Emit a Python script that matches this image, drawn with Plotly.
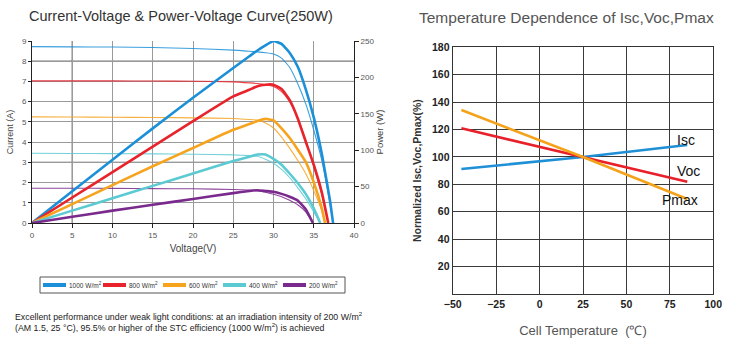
import plotly.graph_objects as go

# ---------------- Left chart data ----------------
irradiance_labels = ["1000 W/m<sup>2</sup>", "800 W/m<sup>2</sup>", "600 W/m<sup>2</sup>",
                     "400 W/m<sup>2</sup>", "200 W/m<sup>2</sup>"]
series_colors = ["#1b90d8", "#e8232b", "#f6a31e", "#5ccad2", "#7a2a8c"]

V_1000 = [0, 5, 10, 15, 20, 25, 27, 28, 29, 30, 31, 32, 33, 34, 35, 36, 37, 37.4]
I_1000 = [8.72, 8.71, 8.70, 8.68, 8.63, 8.55, 8.49, 8.46, 8.42, 8.36, 8.15, 7.7, 6.9, 5.9, 4.6, 3.1, 1.0, 0]
P_1000 = [0, 43.5, 87, 130, 172, 213, 229, 237, 244, 250, 246, 234, 215, 184, 145, 95, 32, 0]

V_800 = [0, 5, 10, 15, 20, 25, 27, 28, 29, 30, 31, 32, 33, 34, 35, 36, 36.8]
I_800 = [7.03, 7.03, 7.03, 7.02, 7.01, 6.98, 6.93, 6.9, 6.84, 6.75, 6.5, 6.0, 5.2, 4.1, 2.8, 1.4, 0]
P_800 = [0, 35, 70, 105, 140, 174, 183, 188, 190, 190, 184, 169, 144, 112, 80, 42, 0]

V_600 = [0, 5, 10, 15, 20, 25, 27, 28, 29, 30, 31, 32, 33, 34, 35, 36, 36.4]
I_600 = [5.25, 5.24, 5.23, 5.22, 5.2, 5.17, 5.12, 5.08, 4.95, 4.7, 4.25, 3.7, 3.1, 2.45, 1.6, 0.6, 0]
P_600 = [0, 26, 52, 78, 103, 128, 136, 140, 143, 141, 130, 117, 101, 84, 56, 20, 0]

V_400 = [0, 5, 10, 15, 20, 25, 27, 28, 29, 30, 31, 32, 33, 34, 35, 35.8]
I_400 = [3.45, 3.44, 3.43, 3.42, 3.4, 3.37, 3.33, 3.3, 3.15, 2.95, 2.65, 2.25, 1.75, 1.2, 0.55, 0]
P_400 = [0, 17, 34, 51, 68, 85, 91, 94, 94, 88, 80, 68, 55, 40, 20, 0]

V_200 = [0, 5, 10, 15, 20, 25, 27, 28, 29, 30, 31, 32, 33, 34, 34.9]
I_200 = [1.72, 1.72, 1.71, 1.70, 1.69, 1.66, 1.63, 1.6, 1.52, 1.42, 1.3, 1.12, 0.9, 0.55, 0]
P_200 = [0, 8.5, 17, 25, 33, 41, 44, 45, 44, 43, 40, 36, 31, 19, 0]

V_sets = [V_1000, V_800, V_600, V_400, V_200]
I_sets = [I_1000, I_800, I_600, I_400, I_200]
P_sets = [P_1000, P_800, P_600, P_400, P_200]

current_ticks = [0, 1, 2, 3, 4, 5, 6, 7, 8, 9]
power_ticks = [0, 50, 100, 150, 200, 250]
voltage_ticks = [0, 5, 10, 15, 20, 25, 30, 35, 40]
dark_grid_v = [5, 10]
dark_grid_i = [3, 7, 8]

# ---------------- Right chart data ----------------
temp = [-45, 25, 85]
isc = [91.2, 100, 108.7]
voc = [120.9, 100, 81.9]
pmax = [134.2, 100, 69.3]
temp_ticks = [-50, -25, 0, 25, 50, 75, 100]
norm_ticks = [20, 40, 60, 80, 100, 120, 140, 160, 180]

W, H = 730, 350
FONT = "Liberation Sans, Arial, sans-serif"

fig = go.Figure()

for k in range(5):
    # I-V (thin)
    fig.add_trace(go.Scatter(x=V_sets[k], y=I_sets[k], mode="lines",
                             line=dict(color=series_colors[k], width=1.1, shape="spline", smoothing=0.45),
                             opacity=0.85, showlegend=False, hoverinfo="skip", xaxis="x", yaxis="y"))
for k in range(5):
    # P-V (thick)
    fig.add_trace(go.Scatter(x=V_sets[k], y=P_sets[k], mode="lines", name=irradiance_labels[k],
                             line=dict(color=series_colors[k], width=2.6, shape="spline", smoothing=0.4),
                             showlegend=False, xaxis="x", yaxis="y2"))

# Right chart lines
rc = ["#1f8fd6", "#e8202a", "#f5a21b"]
for ys, c in zip([isc, voc, pmax], rc):
    fig.add_trace(go.Scatter(x=temp, y=ys, mode="lines", line=dict(color=c, width=2.6),
                             showlegend=False, xaxis="x2", yaxis="y3"))

shapes = []
for v in dark_grid_v:
    shapes.append(dict(type="line", xref="x", yref="y domain", x0=v, x1=v, y0=0, y1=1,
                       line=dict(color="#111", width=1), layer="below"))
for i in dark_grid_i:
    shapes.append(dict(type="line", xref="x domain", yref="y", x0=0, x1=1, y0=i, y1=i,
                       line=dict(color="#111", width=1), layer="below"))

annotations = [
    dict(text="Current-Voltage & Power-Voltage Curve(250W)", xref="paper", yref="paper",
         x=181 / W, y=1 - 16 / H, xanchor="center", yanchor="middle", showarrow=False,
         font=dict(family=FONT, size=14.5, color="#333")),
    dict(text="Temperature Dependence of Isc,Voc,Pmax", xref="paper", yref="paper",
         x=566 / W, y=1 - 17 / H, xanchor="center", yanchor="middle", showarrow=False,
         font=dict(family=FONT, size=15.5, color="#555")),
    dict(text="Excellent performance under weak light conditions: at an irradiation intensity of 200 W/m<sup>2</sup>"
              "<br>(AM 1.5, 25 °C), 95.5% or higher of the STC efficiency (1000 W/m<sup>2</sup>) is achieved",
         xref="paper", yref="paper", x=13 / W, y=1 - 321 / H, xanchor="left", yanchor="middle",
         align="left", showarrow=False, font=dict(family=FONT, size=8.8, color="#222")),
    dict(text="Isc", xref="x2", yref="y3", x=temp[-1] - 1, y=isc[-1] + 4, xanchor="center",
         yanchor="middle", showarrow=False, font=dict(family=FONT, size=14, color="#111")),
    dict(text="Voc", xref="x2", yref="y3", x=temp[-1] + 1, y=voc[-1] + 8, xanchor="center",
         yanchor="middle", showarrow=False, font=dict(family=FONT, size=14, color="#111")),
    dict(text="Pmax", xref="x2", yref="y3", x=temp[-1] - 4, y=pmax[-1] - 1, xanchor="center",
         yanchor="middle", showarrow=False, font=dict(family=FONT, size=14, color="#111")),
]

# Legend box (below the left chart)
LEG_X0, LEG_X1, LEG_Y0, LEG_Y1 = 40, 345, 277, 293
ITEM_X0, ITEM_STEP, SAMPLE_LEN = 43, 60, 23
shapes.append(dict(type="rect", xref="paper", yref="paper",
                   x0=LEG_X0 / W, x1=LEG_X1 / W, y0=1 - LEG_Y1 / H, y1=1 - LEG_Y0 / H,
                   line=dict(color="#555", width=1), fillcolor="white"))
leg_mid = (LEG_Y0 + LEG_Y1) / 2
for k in range(5):
    sx = ITEM_X0 + k * ITEM_STEP
    shapes.append(dict(type="line", xref="paper", yref="paper",
                       x0=sx / W, x1=(sx + SAMPLE_LEN) / W, y0=1 - leg_mid / H, y1=1 - leg_mid / H,
                       line=dict(color=series_colors[k], width=4)))
    annotations.append(dict(text=irradiance_labels[k], xref="paper", yref="paper",
                            x=(sx + SAMPLE_LEN + 1) / W, y=1 - leg_mid / H, xanchor="left",
                            yanchor="middle", showarrow=False,
                            font=dict(family=FONT, size=6.5, color="#333")))

tickfont_l = dict(family=FONT, size=8, color="#555")
tickfont_r = dict(family=FONT, size=10.5, color="#222", weight="bold")

fig.update_layout(
    width=W, height=H, margin=dict(l=0, r=0, t=0, b=0, autoexpand=False),
    paper_bgcolor="white", plot_bgcolor="white", showlegend=False,
    font=dict(family=FONT),
    xaxis=dict(domain=[32 / W, 354 / W], range=[0, 40], tickvals=voltage_ticks, automargin=False,
               showgrid=True, gridcolor="#9a9a9a", gridwidth=1, zeroline=False,
               showline=True, linecolor="#222", linewidth=1, ticks="outside", ticklen=4,
               tickcolor="#222", tickfont=tickfont_l, anchor="y",
               title=dict(text="Voltage(V)", font=dict(family=FONT, size=10, color="#444"), standoff=6)),
    yaxis=dict(domain=[(H - 223) / H, (H - 41) / H], range=[0, 9], tickvals=current_ticks,
               automargin=False,
               showgrid=True, gridcolor="#9a9a9a", gridwidth=1, zeroline=False,
               showline=True, linecolor="#222", linewidth=1, ticks="outside", ticklen=3,
               tickcolor="#222", tickfont=tickfont_l, anchor="x",
               title=dict(text="Current (A)", font=dict(family=FONT, size=9, color="#444"), standoff=6)),
    yaxis2=dict(overlaying="y", side="right", anchor="x", range=[0, 250], tickvals=power_ticks,
                automargin=False,
                showgrid=False, zeroline=False, showline=True, linecolor="#222", linewidth=1,
                ticks="outside", ticklen=4, tickcolor="#222", tickfont=tickfont_l,
                title=dict(text="Power (W)", font=dict(family=FONT, size=9.5, color="#444"), standoff=1)),
    xaxis2=dict(domain=[452.7 / W, 713.3 / W], range=[-50, 100], tickvals=temp_ticks,
                automargin=False,
                showgrid=True, gridcolor="#3a3a3a", gridwidth=1, zeroline=False,
                showline=True, mirror=True, linecolor="#333", linewidth=1.2, ticks="",
                tickfont=tickfont_r, anchor="y3",
                title=dict(text="Cell Temperature  (℃)", font=dict(family=FONT, size=13, color="#555"), standoff=17)),
    yaxis3=dict(domain=[(H - 294) / H, (H - 47.3) / H], range=[0, 180], tickvals=norm_ticks,
                automargin=False,
                showgrid=True, gridcolor="#3a3a3a", gridwidth=1, zeroline=False,
                showline=True, mirror=True, linecolor="#333", linewidth=1.2, ticks="",
                tickfont=tickfont_r, anchor="x2",
                title=dict(text="Normalized Isc,Voc,Pmax(%)",
                           font=dict(family=FONT, size=10.5, color="#333", weight="bold"), standoff=8)),
    shapes=shapes,
    annotations=annotations,
)

fig.write_html("out.html")
